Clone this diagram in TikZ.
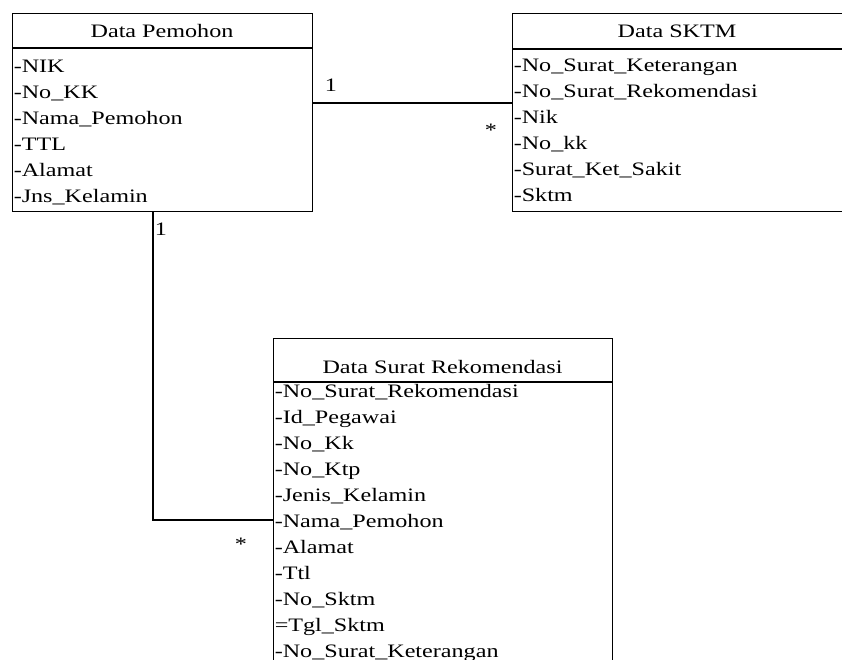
\documentclass[tikz,border=0pt]{standalone}
\usepackage{fontspec}
\setmainfont{Liberation Serif}
\begin{document}
\begin{tikzpicture}[x=1pt,y=-1pt,
  box/.style={draw, line width=1.4pt, inner sep=0pt, anchor=north west},
  txt/.style={inner sep=0pt, font=\fontsize{19}{19}\selectfont, xscale=1.27},
  attr/.style={txt, anchor=base west},
  title/.style={txt, anchor=base},
  mult/.style={txt, anchor=base},
  link/.style={line width=1.4pt}]
\useasboundingbox (0,0) rectangle (842,659);
\clip (0,0) rectangle (842,659);

% class boxes
\node[box, minimum width=300pt, minimum height=198pt] (pem) at (12,13) {};
\node[box, minimum width=331pt, minimum height=198pt] (sktm) at (512,13) {};
\node[box, minimum width=339pt, minimum height=360pt] (rek) at (273,338) {};

% header separators
\draw[link] (pem.west |- 0,48) -- (pem.east |- 0,48);
\draw[link] (sktm.west |- 0,49) -- (sktm.east |- 0,49);
\draw[link] (rek.west |- 0,382) -- (rek.east |- 0,382);

% titles
\node[title] (pem-t) at (162,37.3) {Data Pemohon};
\node[title] (sktm-t) at (677,37) {Data SKTM};
\node[title] (rek-t) at (442.5,373) {Data Surat Rekomendasi};

% attributes
\foreach \t [count=\i] in {-NIK,-No\_KK,-Nama\_Pemohon,-TTL,-Alamat,-Jns\_Kelamin}
  \node[attr] (pem-\i) at (13.5,46+26*\i) {\t};
\foreach \t [count=\i] in {-No\_Surat\_Keterangan,-No\_Surat\_Rekomendasi,-Nik,-No\_kk,-Surat\_Ket\_Sakit,-Sktm}
  \node[attr] (sktm-\i) at (513.5,45.2+26*\i) {\t};
\foreach \t [count=\i] in {-No\_Surat\_Rekomendasi,-Id\_Pegawai,-No\_Kk,-No\_Ktp,-Jenis\_Kelamin,-Nama\_Pemohon,-Alamat,-Ttl,-No\_Sktm,=Tgl\_Sktm,-No\_Surat\_Keterangan}
  \node[attr] (rek-\i) at (274.5,371+26*\i) {\t};

% associations
\draw[link] (pem.east |- 0,103) -- (sktm.west |- 0,103);
\coordinate (bend) at (153,520);
\draw[link] (pem.south -| bend) -- (bend) -- (rek.west |- bend);

% multiplicities
\node[mult] (m1) at (331,91) {1};
\node[mult] (m2) at (491,136) {*};
\node[mult] (m3) at (161,235) {1};
\node[mult] (m4) at (241,550) {*};
\end{tikzpicture}
\end{document}
